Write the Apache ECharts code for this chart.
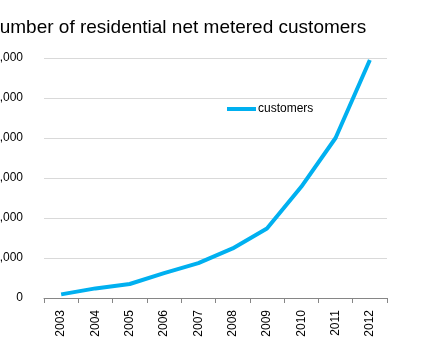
<!DOCTYPE html>
<html><head><meta charset="utf-8">
<script src="https://cdn.jsdelivr.net/npm/echarts@6/dist/echarts.min.js"></script>
<style>html,body{margin:0;padding:0;background:#fff}#c{width:426px;height:356px}</style>
</head><body><div id="c"></div>
<script>
const years = ['2003','2004','2005','2006','2007','2008','2009','2010','2011','2012'];
const customers = [90, 240, 350, 620, 870, 1240, 1740, 2780, 4000, 5950];
const seriesName = 'customers';
const titleText = 'Number of residential net metered customers';

const chart = echarts.init(document.getElementById('c'), null, {renderer: 'canvas'});
chart.setOption({
  animation: false,
  backgroundColor: '#ffffff',
  graphic: [{
    type: 'text', x: -14, y: 18, silent: true,
    style: {text: titleText, font: '19px "Liberation Sans", Arial, sans-serif', fill: '#000'}
  }],
  legend: {
    data: [seriesName], left: 222, top: 98, itemWidth: 29, itemHeight: 4, itemGap: 2,
    icon: 'rect',
    textStyle: {fontFamily: 'Liberation Sans, Arial, sans-serif', fontSize: 12, color: '#000', padding: [0,0,0,-3]}
  },
  grid: {left: 44, right: 39, top: 58, bottom: 58, containLabel: false, outerBoundsMode: 'none'},
  xAxis: {
    type: 'category', data: years, boundaryGap: true,
    axisLine: {lineStyle: {color: '#868686', width: 1}},
    axisTick: {show: true, length: 5, lineStyle: {color: '#868686'}},
    axisLabel: {rotate: 90, margin: 12, fontFamily: 'Liberation Sans, Arial, sans-serif', fontSize: 12, color: '#000'}
  },
  yAxis: {
    type: 'value', min: 0, max: 6000, interval: 1000,
    axisLine: {show: false}, axisTick: {show: false},
    splitLine: {lineStyle: {color: '#d9d9d9', width: 1}},
    axisLabel: {margin: 21, fontFamily: 'Liberation Sans, Arial, sans-serif', fontSize: 12, color: '#000',
      formatter: v => v.toLocaleString('en-US')}
  },
  series: [{
    name: seriesName, type: 'line', data: customers,
    showSymbol: false, symbol: 'none',
    lineStyle: {color: '#00b0f0', width: 4},
    itemStyle: {color: '#00b0f0'}
  }]
});
</script>
</body></html>
